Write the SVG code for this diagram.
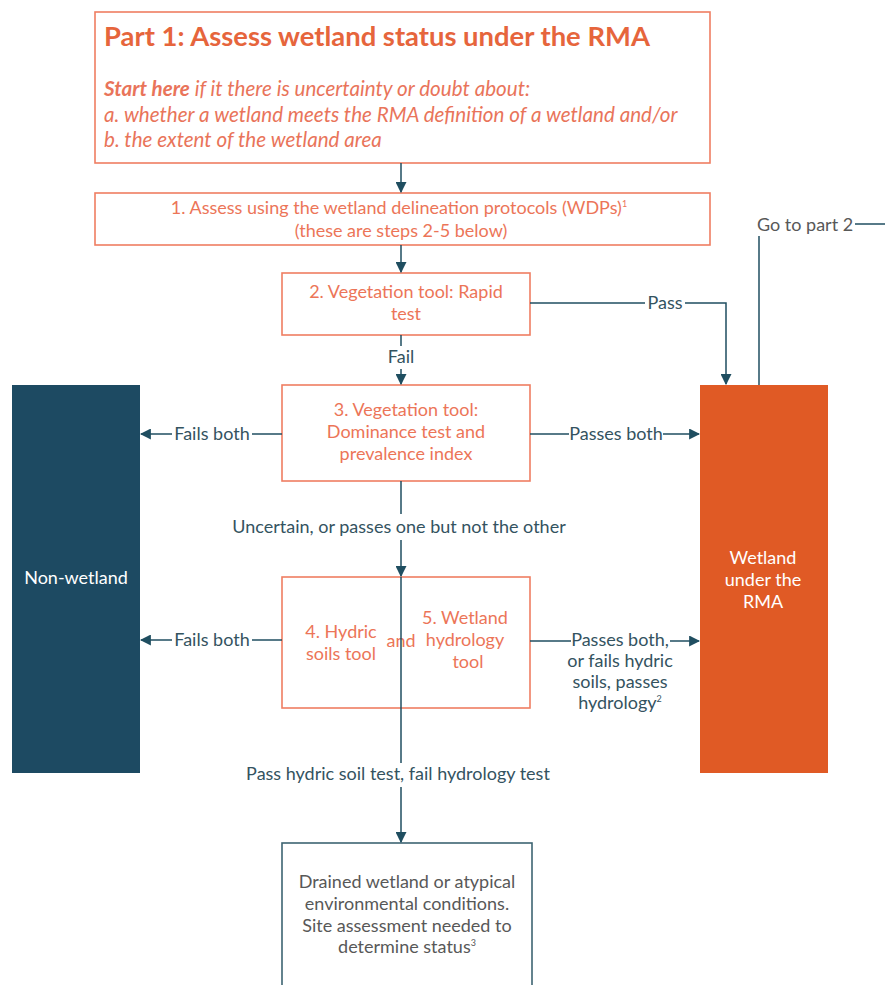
<svg xmlns="http://www.w3.org/2000/svg" width="885" height="985" viewBox="0 0 885 985">
<style>
.ob{fill:#fff;stroke:#EF7E62;stroke-width:1.6}
.t{font-family:Lato,"Liberation Sans",sans-serif}
.or{fill:#EC7558;font-size:18px}
.lb{fill:#34535F;font-size:18px}
.wh{fill:#fff;font-size:18px}
.gr{fill:#585858;font-size:18px}
.c{fill:none;stroke:#1F4E60;stroke-width:1.5}
</style>
<defs>
<marker id="ah" viewBox="0 0 10 10" refX="9" refY="5" markerWidth="11" markerHeight="11" markerUnits="userSpaceOnUse" orient="auto">
<path d="M0,0 L10,5 L0,10 z" fill="#1F4E60"/>
</marker>
</defs>
<rect width="885" height="985" fill="#fff"/>

<g id="part1">
<rect class="ob" x="95" y="12" width="615" height="151"/>
<text class="t" x="104" y="46" font-size="27.4" font-weight="bold" fill="#E6653C">Part 1: Assess wetland status under the RMA</text>
<text class="t" x="104" y="96" font-size="20.6" font-style="italic" fill="#E9745A"><tspan font-weight="bold">Start here</tspan> if it there is uncertainty or doubt about:</text>
<text class="t" x="104" y="122" font-size="20.6" font-style="italic" fill="#E9745A">a. whether a wetland meets the RMA definition of a wetland and/or</text>
<text class="t" x="104" y="147" font-size="20.6" font-style="italic" fill="#E9745A">b. the extent of the wetland area</text>
</g>

<g id="step1">
<rect class="ob" x="95" y="193" width="615" height="52"/>
<text class="t or" x="399" y="214" text-anchor="middle">1. Assess using the wetland delineation protocols (WDPs)<tspan font-size="9" dy="-7">1</tspan></text>
<text class="t or" x="401" y="237" text-anchor="middle">(these are steps 2-5 below)</text>
</g>

<g id="step2">
<rect class="ob" x="282" y="273" width="248" height="62"/>
<text class="t or" x="406" y="298" text-anchor="middle">2. Vegetation tool:  Rapid</text>
<text class="t or" x="406" y="320" text-anchor="middle">test</text>
</g>

<g id="step3">
<rect class="ob" x="282" y="385" width="248" height="96"/>
<text class="t or" x="406" y="416" text-anchor="middle">3. Vegetation tool:</text>
<text class="t or" x="406" y="438" text-anchor="middle">Dominance test and</text>
<text class="t or" x="406" y="460" text-anchor="middle">prevalence index</text>
</g>

<g id="step45">
<rect class="ob" x="282" y="577" width="248" height="131"/>
<text class="t or" x="341" y="638" text-anchor="middle">4. Hydric</text>
<text class="t or" x="341" y="660" text-anchor="middle">soils tool</text>
<text class="t or" x="401" y="647" text-anchor="middle">and</text>
<text class="t or" x="465" y="624" text-anchor="middle">5. Wetland</text>
<text class="t or" x="465" y="646" text-anchor="middle">hydrology</text>
<text class="t or" x="468" y="668" text-anchor="middle">tool</text>
</g>

<g id="nonwetland">
<rect x="12" y="385" width="128" height="388" fill="#1D4A62"/>
<text class="t wh" x="76" y="584" text-anchor="middle">Non-wetland</text>
</g>

<g id="wetland">
<rect x="700" y="385" width="128" height="388" fill="#E05A25"/>
<text class="t wh" x="763" y="564" text-anchor="middle">Wetland</text>
<text class="t wh" x="763" y="586" text-anchor="middle">under the</text>
<text class="t wh" x="763" y="608" text-anchor="middle">RMA</text>
</g>

<g id="drained">
<rect x="282" y="843" width="250" height="150" fill="#fff" stroke="#3E6472" stroke-width="1.6"/>
<text class="t gr" x="407" y="888" text-anchor="middle">Drained wetland or atypical</text>
<text class="t gr" x="407" y="910" text-anchor="middle">environmental conditions.</text>
<text class="t gr" x="407" y="932" text-anchor="middle">Site assessment needed to</text>
<text class="t gr" x="407" y="953" text-anchor="middle">determine status<tspan font-size="9" dy="-7">3</tspan></text>
</g>

<g id="connectors">
<line class="c" x1="401" y1="163" x2="401" y2="192" marker-end="url(#ah)"/>
<line class="c" x1="401" y1="245" x2="401" y2="272" marker-end="url(#ah)"/>
<line class="c" x1="401" y1="335" x2="401" y2="346"/>
<line class="c" x1="401" y1="369" x2="401" y2="384" marker-end="url(#ah)"/>
<line class="c" x1="530" y1="303" x2="645" y2="303"/>
<polyline class="c" points="685,303 726,303 726,384" marker-end="url(#ah)"/>
<line class="c" x1="282" y1="434" x2="252" y2="434"/>
<line class="c" x1="172" y1="434" x2="141" y2="434" marker-end="url(#ah)"/>
<line class="c" x1="530" y1="434" x2="569" y2="434"/>
<line class="c" x1="663" y1="434" x2="699" y2="434" marker-end="url(#ah)"/>
<line class="c" x1="401" y1="481" x2="401" y2="514"/>
<line class="c" x1="401" y1="540" x2="401" y2="576" marker-end="url(#ah)"/>
<line class="c" x1="401" y1="577" x2="401" y2="763"/>
<line class="c" x1="282" y1="640" x2="252" y2="640"/>
<line class="c" x1="172" y1="640" x2="141" y2="640" marker-end="url(#ah)"/>
<line class="c" x1="530" y1="641" x2="571" y2="641"/>
<line class="c" x1="670" y1="641" x2="699" y2="641" marker-end="url(#ah)"/>
<line class="c" x1="401" y1="787" x2="401" y2="842" marker-end="url(#ah)"/>
<line class="c" x1="759" y1="385" x2="759" y2="236" stroke="#2F6A6A"/>
<line class="c" x1="855" y1="224" x2="885" y2="224" stroke="#2F6A6A"/>
</g>

<g id="labels">
<text class="t lb" x="401" y="363" text-anchor="middle">Fail</text>
<text class="t lb" x="665" y="309" text-anchor="middle">Pass</text>
<text class="t lb" x="212" y="440" text-anchor="middle">Fails both</text>
<text class="t lb" x="616" y="440" text-anchor="middle">Passes both</text>
<text class="t lb" x="399" y="533" text-anchor="middle">Uncertain, or passes one but not the other</text>
<text class="t lb" x="212" y="646" text-anchor="middle">Fails both</text>
<text class="t lb" x="620" y="646" text-anchor="middle">Passes both,</text>
<text class="t lb" x="620" y="667" text-anchor="middle">or fails hydric</text>
<text class="t lb" x="620" y="688" text-anchor="middle">soils, passes</text>
<text class="t lb" x="620" y="709" text-anchor="middle">hydrology<tspan font-size="9" dy="-7">2</tspan></text>
<text class="t lb" x="398" y="780" text-anchor="middle">Pass hydric soil test, fail hydrology test</text>
<text class="t" x="757" y="231" font-size="18" fill="#585858">Go to part 2</text>
</g>
</svg>
